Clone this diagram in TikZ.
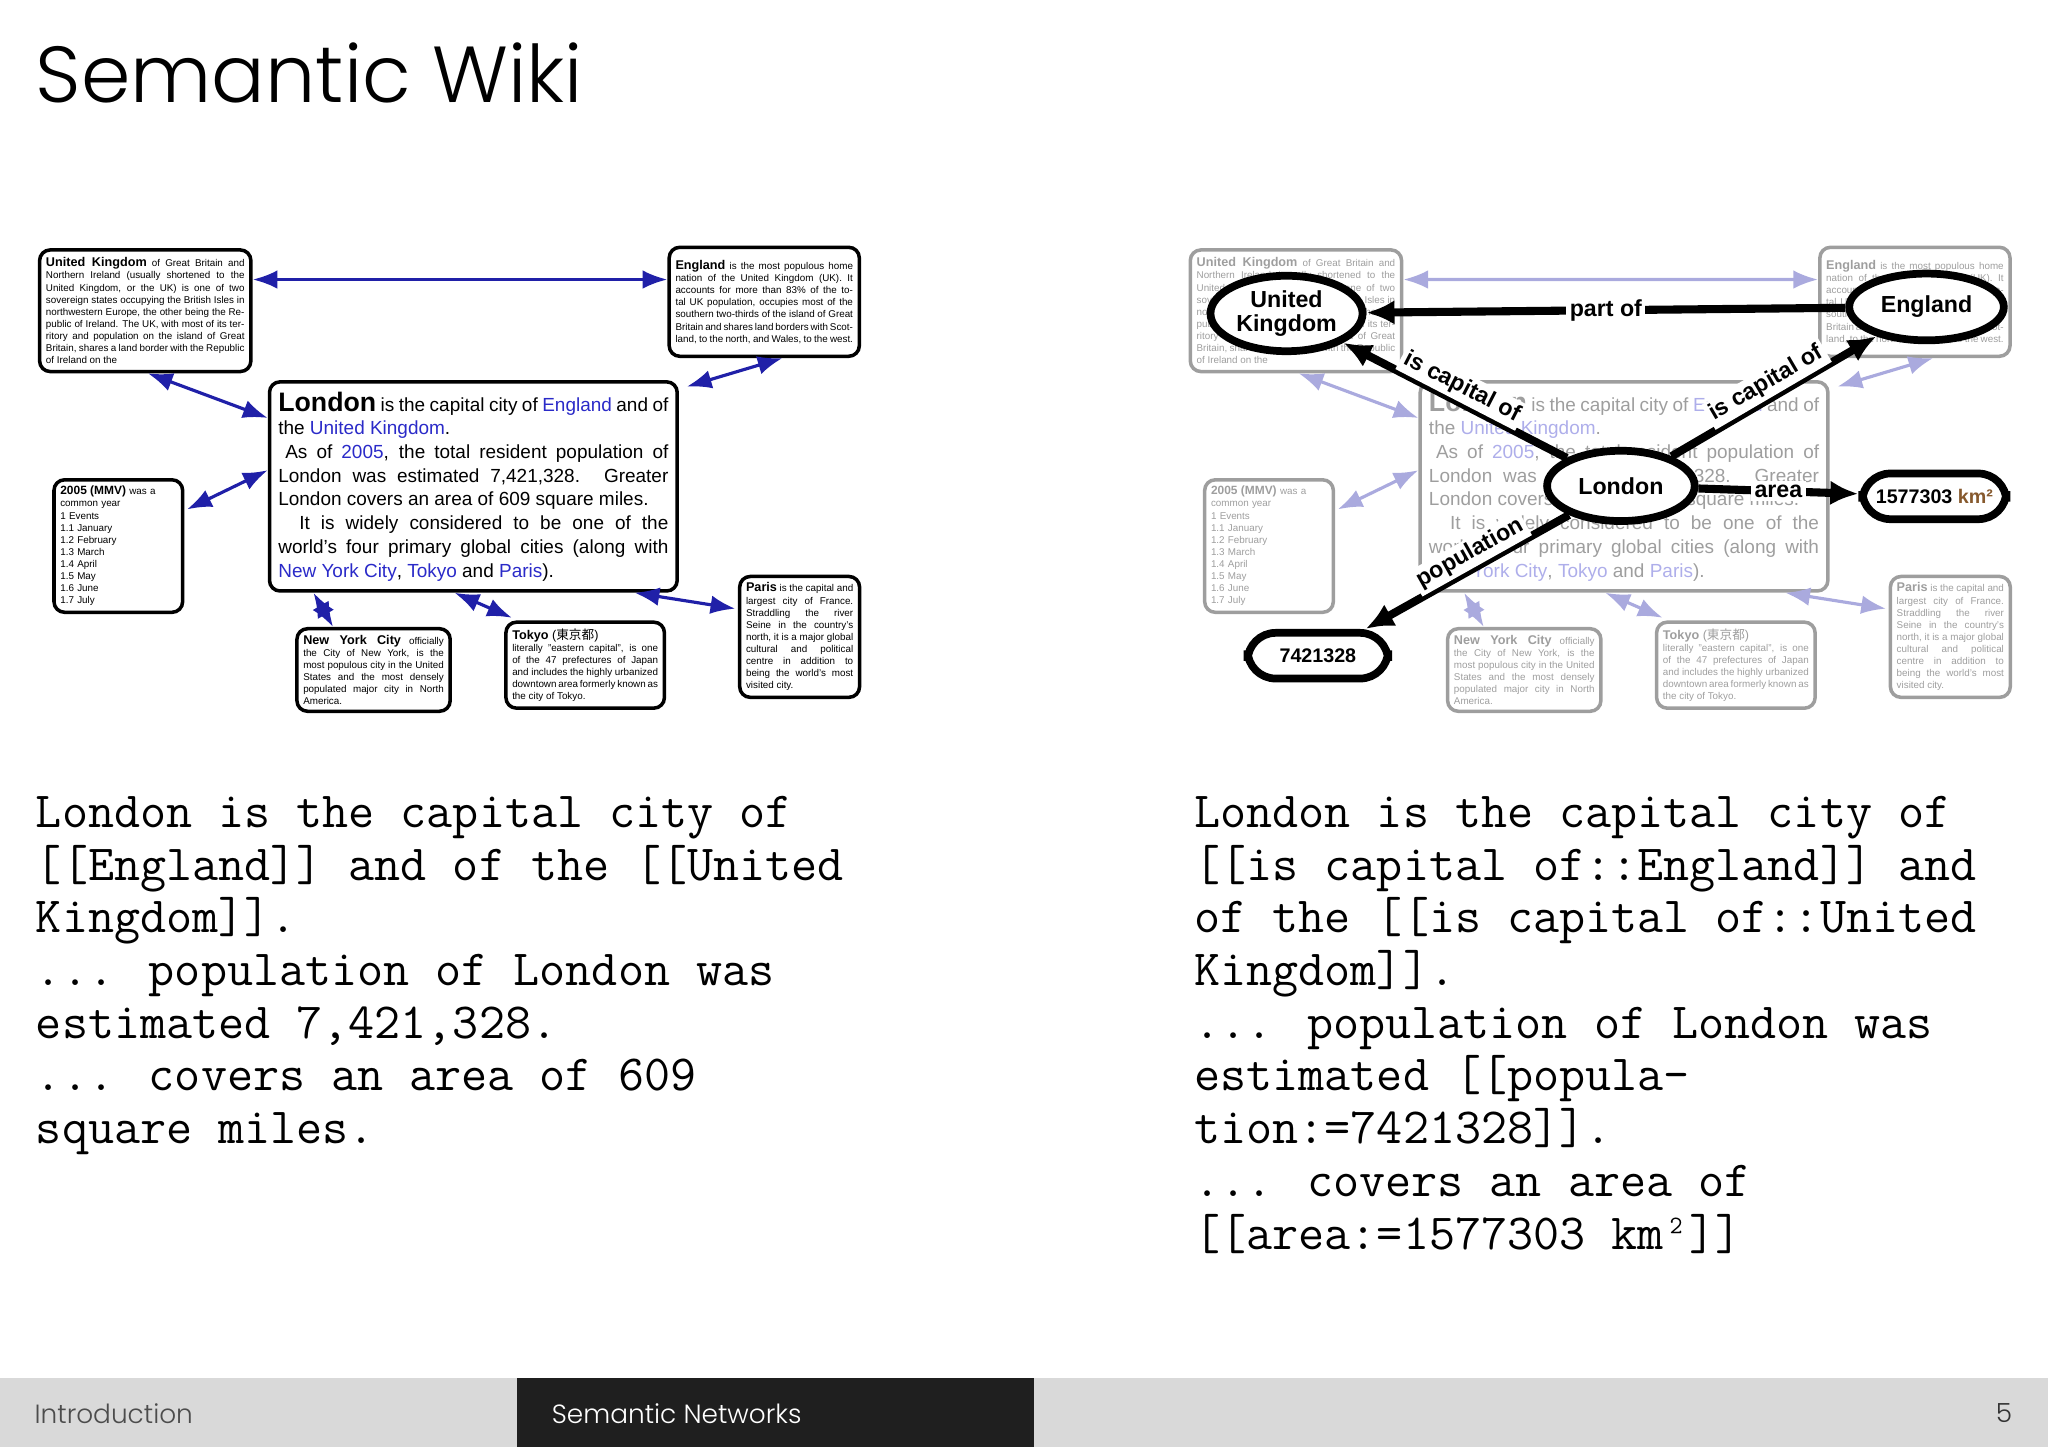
\documentclass[tikz,border=0pt]{standalone}
\usepackage{fontspec}
\setmainfont{Liberation Sans}
\newfontfamily\titlefont{Poppins Light}
\newfontfamily\cjk{Noto Sans CJK JP}
\usetikzlibrary{arrows.meta,shapes.geometric}
\definecolor{wblue}{HTML}{2020A8}
\definecolor{lblue}{HTML}{2A2AC8}
\tikzset{
 wbox/.style={draw,rounded corners=3pt,line width=1pt,anchor=north west,inner sep=1.8pt,align=justify,font=\fontsize{2.8}{3.45}\selectfont},
 warr/.style={Latex-Latex,wblue,line width=0.9pt},
 ell/.style={draw,ellipse,line width=2.2pt,font=\fontsize{6.6}{7}\selectfont\bfseries,align=center,fill=white,inner sep=1pt},
 rbox/.style={draw,rounded corners=8pt,line width=2.2pt,font=\fontsize{5.6}{6}\selectfont\bfseries,fill=white},
 barr/.style={-{Latex[length=8pt,width=7pt]},line width=2.3pt},
 lab/.style={font=\fontsize{6.6}{7}\selectfont\bfseries,fill=white,inner sep=1pt},
 mono/.style={anchor=north west,align=left,font=\ttfamily\fontsize{14.4}{15}\selectfont,inner sep=0pt},
 bartxt/.style={anchor=west,font=\titlefont\fontsize{7.5}{9}\selectfont,inner sep=0pt}
}
\newcommand{\wikidiag}[1]{%
 \node[wbox,text width=56.5pt,minimum height=34.6pt] (#1uk) at (29,190) {{\fontsize{3.6}{3}\selectfont\textbf{United Kingdom}} of Great Britain and Northern Ireland (usually shortened to the United Kingdom, or the UK) is one of two sovereign states occupying the British Isles in northwestern Europe, the other being the Republic of Ireland. The UK, with most of its territory and population on the island of Great Britain, shares a land border with the Republic of Ireland on the};
 \node[wbox,text width=50.5pt,minimum height=31pt] (#1en) at (511,188) {{\fontsize{3.6}{3}\selectfont\textbf{England}} is the most populous home nation of the United Kingdom (UK). It accounts for more than 83\% of the total UK population, occupies most of the southern two-thirds of the island of Great Britain and shares land borders with Scotland, to the north, and Wales, to the west.};
 \node[wbox,text width=111pt,minimum height=59.5pt,inner sep=2.5pt,font=\fontsize{5.4}{6.75}\selectfont] (#1lo) at (205,291) {{\fontsize{7.6}{7}\selectfont\textbf{London}} is the capital city of \textcolor{lblue}{England} and of the \textcolor{lblue}{United Kingdom}.\\ \hspace*{2pt}As of \textcolor{lblue}{2005}, the total resident population of London was estimated 7,421,328. Greater London covers an area of 609 square miles.\\ \hspace*{6pt}It is widely considered to be one of the world's four primary global cities (along with \textcolor{lblue}{New York City}, \textcolor{lblue}{Tokyo} and \textcolor{lblue}{Paris}).};
 \node[wbox,text width=33pt,minimum height=36.5pt,align=left] (#1mm) at (40,366) {{\fontsize{3.4}{3}\selectfont\textbf{2005 (MMV)}} was a\\common year\\1 Events\\1.1 January\\1.2 February\\1.3 March\\1.4 April\\1.5 May\\1.6 June\\1.7 July};
 \node[wbox,text width=40pt,minimum height=20.5pt] (#1ny) at (226,480) {{\fontsize{3.6}{3}\selectfont\textbf{New York City}} officially the City of New York, is the most populous city in the United States and the most densely populated major city in North America.};
 \node[wbox,text width=41.5pt,minimum height=18.5pt] (#1to) at (386,475) {{\fontsize{3.6}{3}\selectfont\textbf{Tokyo} ({\cjk 東京都})}\\literally "eastern capital", is one of the 47 prefectures of Japan and includes the highly urbanized downtown area formerly known as the city of Tokyo.};
 \node[wbox,text width=30.5pt,minimum height=29pt] (#1pa) at (565,440) {{\fontsize{3.6}{3}\selectfont\textbf{Paris}} is the capital and largest city of France. Straddling the river Seine in the country's north, it is a major global cultural and political centre in addition to being the world's most visited city.};
 \draw[warr] (#1uk.east|-0,214) -- (#1en.west|-0,214);
 \draw[warr] ([shift={(2,0)}]#1uk.south) -- ([shift={(0,29)}]#1lo.north west);
 \draw[warr] ([shift={(14,0)}]#1en.south) -- ([shift={(6,5)}]#1lo.north east);
 \draw[warr] ([shift={(2,24)}]#1mm.north east) -- ([shift={(0,69)}]#1lo.north west);
 \draw[warr] ([shift={(35,0)}]#1lo.south west) -- ([shift={(29,0)}]#1ny.north west);
 \draw[warr] ([shift={(143,0)}]#1lo.south west) -- ([shift={(6,-2)}]#1to.north west);
 \draw[warr] ([shift={(-34,0)}]#1lo.south east) -- ([shift={(-2,26)}]#1pa.north west);
}
\begin{document}
\begin{tikzpicture}[x=0.013061cm,y=-0.013061cm]
\useasboundingbox (0,0) rectangle (1568,1108);
\node[anchor=west,font=\titlefont\fontsize{22.6}{25}\selectfont,inner sep=0pt] (title) at (27,56) {Semantic Wiki};
\wikidiag{a}
\begin{scope}[shift={(881,0)},opacity=0.38,transparency group]
\wikidiag{b}
\end{scope}
% right overlay
\node[ell,minimum width=43pt,minimum height=21pt] (uk) at (985,240) {United\\Kingdom};
\node[ell,minimum width=44pt,minimum height=19pt] (en) at (1475,235) {England};
\node[ell,minimum width=42pt,minimum height=20pt] (lo) at (1241,372) {London};
\node[rbox,minimum width=41pt,minimum height=13pt] (ar) at (1481,380) {1577303 {\color{brown!70!black}km²}};
\node[rbox,minimum width=40pt,minimum height=13pt] (po) at (1009,502) {7421328};
\draw[barr] (en) -- node[lab]{part of} (uk);
\draw[barr] (lo) -- node[lab,sloped,above=-1pt]{is capital of} (uk);
\draw[barr] (lo) -- node[lab,sloped,above=-1pt]{is capital of} (en);
\draw[barr] (lo) -- node[lab]{area} (ar);
\draw[barr] (lo) -- node[lab,sloped,above=-1pt,pos=0.45]{population} (po);
% texts
\node[mono] (lt) at (27,609) {London is the capital city of\\{}[[England]] and of the [[United\\Kingdom]].\\... population of London was\\estimated 7,421,328.\\... covers an area of 609\\square miles.};
\node[mono] (rt) at (914,609) {London is the capital city of\\{}[[is capital of::England]] and\\of the [[is capital of::United\\Kingdom]].\\... population of London was\\estimated [[popula-\\tion:=7421328]].\\... covers an area of\\{}[[area:=1577303 km²]]};
% bar
\fill[gray!30] (0,1055) rectangle (1568,1108);
\fill[black!88] (396,1055) rectangle (792,1108);
\node[bartxt,text=black!70] (b1) at (26,1082) {Introduction};
\node[bartxt,text=white] (b2) at (422,1082) {Semantic Networks};
\node[bartxt,anchor=east,text=black!80] (b3) at (1541,1082) {5};
\end{tikzpicture}
\end{document}
